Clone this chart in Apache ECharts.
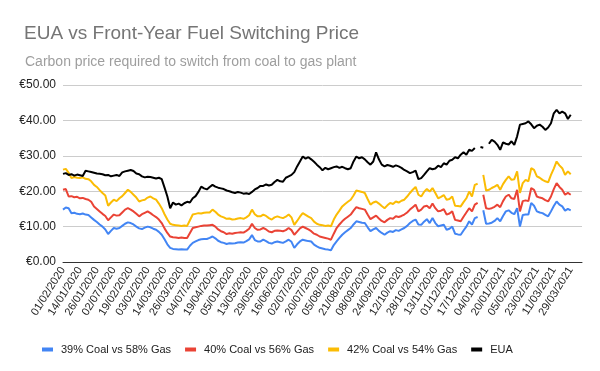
<!DOCTYPE html>
<html><head><meta charset="utf-8">
<script src="https://cdn.jsdelivr.net/npm/echarts@6/dist/echarts.min.js"></script>
<style>html,body{margin:0;padding:0;background:#fff}#c{width:600px;height:371px}</style>
</head><body><div id="c"></div>
<script>
const tickLabels = ["01/02/2020","14/01/2020","26/01/2020","02/07/2020","19/02/2020","03/02/2020","14/03/2020","26/03/2020","04/07/2020","19/04/2020","05/01/2020","13/05/2020","29/05/2020","16/06/2020","02/07/2020","20/07/2020","05/08/2020","21/08/2020","08/09/2020","24/09/2020","12/10/2020","28/10/2020","13/11/2020","01/12/2020","17/12/2020","04/01/2021","20/01/2021","05/02/2021","23/02/2021","11/03/2021","29/03/2021"];
const yTicks = [0,10,20,30,40,50];
const seriesNames = ["39% Coal vs 58% Gas","40% Coal vs 56% Gas","42% Coal vs 54% Gas","EUA"];

const coal39 = [
14.8,15.4,15.2,13.8,13.9,13.6,13.5,13.7,13.4,13.3,
12.6,11.9,11.3,10.6,10.0,9.2,7.9,8.8,9.6,9.4,
9.6,10.2,10.8,11.2,11.0,10.6,10.0,9.5,9.3,9.7,
10.0,9.8,9.4,9.1,8.5,7.7,6.4,5.0,4.0,3.7,
3.6,3.5,3.6,3.5,3.5,4.6,5.4,5.8,6.2,6.4,
6.5,6.5,6.8,7.2,6.7,6.0,5.6,5.4,5.1,5.3,
5.2,5.3,5.5,5.6,5.5,5.9,6.4,7.6,6.2,5.8,
5.8,6.3,5.9,5.4,5.2,5.6,5.8,5.6,5.4,5.8,
6.3,5.7,4.0,5.0,5.8,6.3,6.1,5.9,5.8,4.9,
4.4,4.0,3.8,3.6,3.5,3.3,4.8,5.8,6.8,7.7,
8.4,9.0,9.6,10.6,11.5,11.3,11.1,11.0,9.8,8.7,
9.2,9.6,8.8,8.2,7.7,8.3,8.7,8.5,9.0,8.8,
9.2,9.6,10.2,11.0,11.6,12.0,10.6,10.5,11.4,12.1,
11.0,12.4,11.0,10.1,10.3,10.5,9.1,9.4,10.0,8.0,
7.8,7.7,8.9,10.0,11.5,10.6,12.4,12.7,null,14.6,
10.8,10.9,11.1,11.6,12.4,11.5,13.0,14.3,14.6,13.9,
13.5,15.2,10.0,13.3,13.4,13.4,16.7,15.9,14.3,14.0,
13.8,13.3,12.9,14.3,15.8,17.1,16.2,15.7,14.5,15.0,
14.6];

const coal40 = [
20.4,20.6,18.5,18.6,18.3,18.4,18.0,18.1,17.8,17.6,
17.0,15.7,15.0,14.3,13.6,13.0,11.8,12.6,13.4,13.1,
13.2,14.0,14.8,15.2,14.8,14.3,13.6,12.9,13.5,13.9,
14.3,13.8,13.2,12.7,12.0,11.0,9.5,8.2,7.2,7.0,
6.9,6.8,6.9,6.8,6.8,8.2,9.6,9.8,10.0,10.2,
10.3,10.3,10.4,10.5,10.0,9.2,8.7,8.4,7.9,8.1,
8.0,8.2,8.3,8.4,8.3,8.8,9.4,10.8,9.6,9.1,
9.2,9.6,9.2,8.6,8.4,8.8,8.9,8.8,8.7,9.0,
9.6,9.0,7.7,8.6,9.5,10.0,9.6,9.2,8.7,8.0,
7.7,7.2,7.0,6.8,6.6,6.3,8.0,9.6,10.6,11.5,
12.2,12.8,13.4,14.5,15.5,15.2,15.0,14.8,13.4,12.1,
12.6,13.1,12.3,11.6,11.2,11.9,12.4,12.2,12.9,12.7,
13.0,13.4,14.0,14.8,15.5,16.2,14.3,14.8,15.7,15.9,
15.2,16.5,15.2,14.3,14.5,14.9,13.4,13.7,14.3,11.9,
11.7,11.5,12.8,14.0,15.2,14.3,16.2,16.7,null,19.0,
15.2,15.0,15.2,15.6,16.2,15.5,17.2,18.5,19.0,18.0,
17.8,20.4,14.3,17.2,17.4,17.2,20.9,20.4,18.5,18.2,
18.0,17.5,17.1,18.5,20.6,22.3,21.2,20.4,19.0,19.5,
19.0];

const coal42 = [
26.1,26.3,25.2,23.7,24.0,23.8,23.7,23.9,23.5,23.4,
22.8,21.8,21.2,20.3,19.5,18.8,15.9,16.8,17.6,17.2,
18.0,18.6,19.5,20.4,19.8,19.0,18.2,17.1,17.4,17.6,
18.2,18.5,18.0,17.6,16.5,15.2,13.5,12.0,10.8,10.5,
10.4,10.3,10.2,10.3,10.2,11.8,13.4,13.6,13.8,13.7,
13.9,14.0,14.0,14.8,14.2,13.4,12.9,12.6,12.2,12.3,
12.0,12.1,12.3,12.4,12.2,12.6,13.2,14.8,13.5,12.9,
12.9,13.4,13.0,12.4,12.0,12.6,12.9,12.6,12.4,12.8,
13.4,12.6,10.5,11.6,12.8,13.8,13.3,12.8,12.4,11.4,
10.8,10.5,10.4,10.2,10.3,10.1,12.0,13.4,14.5,15.7,
16.4,17.0,17.6,18.8,20.2,20.0,19.8,19.5,17.8,16.2,
16.8,17.1,16.5,15.8,15.2,16.0,16.7,16.4,17.1,16.8,
17.3,17.6,18.5,19.5,20.4,21.2,19.0,18.5,19.8,20.6,
19.9,20.9,19.5,18.0,18.4,18.9,17.6,17.8,18.5,15.9,
15.8,15.7,16.9,18.0,19.9,18.5,21.8,22.1,null,24.6,
20.2,20.4,20.9,21.3,21.8,20.4,22.0,23.2,24.2,23.2,
23.4,25.6,19.5,22.3,23.2,22.8,26.5,26.0,24.2,23.8,
23.2,22.8,22.5,24.6,26.4,28.4,27.3,26.5,24.6,25.6,
24.8];

const eua = [
24.9,25.1,24.6,24.8,24.4,24.7,24.5,24.3,25.8,25.6,
25.4,25.2,25.0,24.9,24.8,24.5,24.6,24.2,24.4,24.6,
24.3,25.3,25.6,25.8,26.0,25.7,25.0,24.8,24.2,23.9,
24.1,24.0,23.8,23.6,23.8,23.4,21.0,18.5,15.2,16.8,
16.2,16.5,16.0,16.6,17.0,16.8,18.0,18.6,19.8,21.3,
20.8,20.5,21.2,21.8,21.3,21.0,20.8,20.6,20.2,20.0,
19.7,19.5,19.8,19.6,19.3,19.4,19.2,19.8,20.5,20.9,
21.5,21.5,21.9,21.6,21.8,22.6,23.2,22.8,22.7,23.8,
24.2,24.6,25.4,27.0,28.4,29.8,29.2,29.6,29.0,28.3,
27.5,26.8,25.9,26.6,26.2,26.5,26.8,27.0,26.6,26.9,
26.5,26.2,26.5,28.4,29.8,29.3,29.6,29.0,28.2,27.5,
28.4,31.0,29.0,27.5,27.0,27.4,27.2,26.9,27.3,27.0,
26.6,26.0,25.6,25.1,25.4,25.8,23.4,23.7,24.6,25.6,
26.5,26.2,26.4,27.2,26.8,27.9,27.5,28.6,28.9,29.6,
29.3,30.3,31.0,30.3,31.7,31.4,32.2,null,32.5,32.3,
null,33.4,34.5,34.0,33.1,31.7,33.8,33.4,33.2,34.1,
33.1,35.5,38.8,39.0,39.2,39.7,38.9,37.8,38.5,38.8,
38.2,37.3,38.0,39.2,42.0,43.0,42.0,42.5,42.0,40.4,
41.6];

const nCats = 185;
const cats = [];
for (let k = 0; k < nCats; k++) cats.push(k % 6 === 0 && tickLabels[k / 6] ? tickLabels[k / 6] : 'c' + k);

const colors = ['#4285F4', '#EA4335', '#FBBC04', '#000000'];
const data = [coal39, coal40, coal42, eua];

const chart = echarts.init(document.getElementById('c'), null, {renderer: 'canvas'});
chart.setOption({
  animation: false,
  backgroundColor: '#ffffff',
  title: [
    {text: 'EUA vs Front-Year Fuel Switching Price', left: 19, top: 19,
     textStyle: {fontFamily: 'Liberation Sans, Arial, sans-serif', fontSize: 19, fontWeight: 'normal', color: '#757575'}},
    {text: 'Carbon price required to switch from coal to gas plant', left: 20, top: 50,
     textStyle: {fontFamily: 'Liberation Sans, Arial, sans-serif', fontSize: 14, fontWeight: 'normal', color: '#9e9e9e'}}
  ],
  legend: {
    data: seriesNames, left: 37, top: 339, icon: 'rect', itemWidth: 11, itemHeight: 4, itemGap: 14,
    textStyle: {fontFamily: 'Liberation Sans, Arial, sans-serif', fontSize: 11, color: '#222', padding: [0, 0, 0, 3]}
  },
  grid: {left: 63, right: 18, top: 85, height: 177, containLabel: false},
  xAxis: {
    type: 'category', data: cats, boundaryGap: false,
    axisLine: {lineStyle: {color: '#333', width: 1}},
    axisTick: {show: false},
    axisLabel: {interval: 5, rotate: 58, margin: 6, fontFamily: 'Liberation Sans, Arial, sans-serif', fontSize: 11, color: '#222'},
    splitLine: {show: false}
  },
  yAxis: {
    type: 'value', min: yTicks[0], max: yTicks[yTicks.length - 1], interval: 10,
    axisLine: {show: false}, axisTick: {show: false},
    axisLabel: {formatter: v => '€' + v.toFixed(2), margin: 7, fontFamily: 'Liberation Sans, Arial, sans-serif', fontSize: 12, color: '#222'},
    splitLine: {lineStyle: {color: '#cccccc', width: 1}}
  },
  series: seriesNames.map((n, i) => ({
    name: n, type: 'line', data: data[i], showSymbol: false, symbol: 'none',
    connectNulls: false, lineStyle: {color: colors[i], width: 2}, itemStyle: {color: colors[i]}
  }))
});
</script></body></html>
